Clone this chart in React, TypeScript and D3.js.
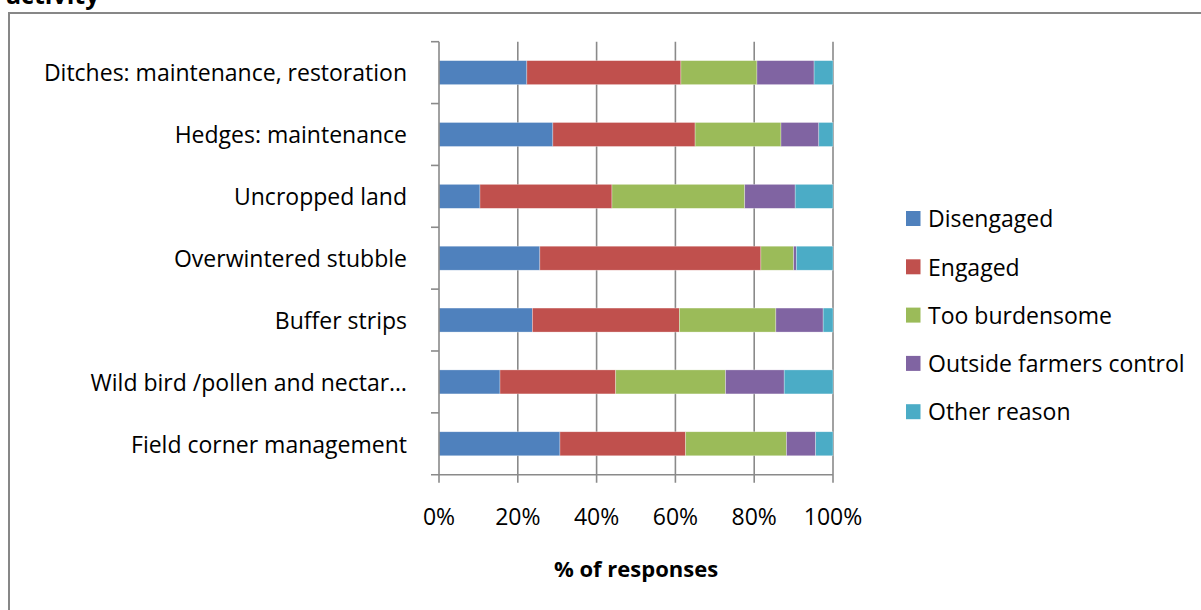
import * as React from 'react';
import * as d3 from 'd3';

// categories, top to bottom
const categories = [
  'Ditches: maintenance, restoration',
  'Hedges: maintenance',
  'Uncropped land',
  'Overwintered stubble',
  'Buffer strips',
  'Wild bird /pollen and nectar…',
  'Field corner management',
];

const disengaged = [22.3, 28.9, 10.4, 25.6, 23.7, 15.5, 30.7];
const engaged = [39.1, 36.1, 33.5, 56.1, 37.3, 29.4, 31.9];
const tooBurdensome = [19.3, 21.8, 33.7, 8.3, 24.5, 27.9, 25.6];
const outsideControl = [14.5, 9.6, 12.8, 0.7, 12.0, 14.9, 7.4];
const otherReason = [4.8, 3.6, 9.6, 9.3, 2.5, 12.4, 4.4];

const seriesNames = [
  'Disengaged',
  'Engaged',
  'Too burdensome',
  'Outside farmers control',
  'Other reason',
];
const seriesColors = ['#4F81BD', '#C0504D', '#9BBB59', '#8064A2', '#4BACC6'];
const xTicks = [0, 0.2, 0.4, 0.6, 0.8, 1];

const W = 1201;
const H = 610;
const FONT = '"Open Sans", "Noto Sans", sans-serif';

export default function App() {
  const seriesValues = [disengaged, engaged, tooBurdensome, outsideControl, otherReason];
  const rows = categories.map((c, i) => {
    const r: Record<string, any> = { category: c };
    seriesNames.forEach((s, j) => (r[s] = seriesValues[j][i]));
    return r;
  });

  const stacked = d3
    .stack<any>()
    .keys(seriesNames)
    .offset(d3.stackOffsetExpand)(rows);

  const x = d3.scaleLinear().domain([0, 1]).range([439, 833]);
  const y = d3
    .scaleBand<string>()
    .domain(categories)
    .range([41.7, 474.7])
    .paddingInner(0.612)
    .paddingOuter(0.306);
  const color = d3.scaleOrdinal<string>().domain(seriesNames).range(seriesColors);
  const fmt = d3.format('.0%');

  const top = y.range()[0];
  const bottom = y.range()[1];
  const step = y.step();
  const gridColor = '#8a8a8a';

  return (
    <svg
      width={W}
      height={H}
      style={{ position: 'absolute', left: 0, top: 0, background: '#fff' }}
      fontFamily={FONT}
    >
      {/* title, cut off at the top as in the source */}
      <text x={6} y={4} fontSize={25} fontWeight="bold" fill="#000">
        activity
      </text>
      {/* chart border */}
      <path d={`M9,${H + 2} V13 H${W + 2}`} fill="none" stroke="#878787" strokeWidth={2} />

      {/* gridlines */}
      {xTicks.slice(1).map((t) => (
        <line key={t} x1={x(t)} x2={x(t)} y1={top} y2={bottom + 8} stroke={gridColor} strokeWidth={1.6} />
      ))}

      {/* bars */}
      {stacked.map((s) => (
        <g key={s.key} fill={color(s.key)}>
          {s.map((d) => (
            <rect
              key={d.data.category}
              x={x(d[0])}
              y={y(d.data.category)}
              width={x(d[1]) - x(d[0])}
              height={y.bandwidth()}
              stroke="#ffffff"
              strokeOpacity={0.5}
              strokeWidth={0.6}
            />
          ))}
        </g>
      ))}

      {/* axes */}
      <line x1={x(0)} x2={x(0)} y1={top} y2={bottom + 8} stroke={gridColor} strokeWidth={1.6} />
      <line x1={x(0) - 8} x2={x(1)} y1={bottom} y2={bottom} stroke={gridColor} strokeWidth={1.6} />
      {d3.range(categories.length).map((i) => (
        <line
          key={i}
          x1={x(0) - 8}
          x2={x(0)}
          y1={top + i * step}
          y2={top + i * step}
          stroke={gridColor}
          strokeWidth={1.6}
        />
      ))}

      {/* category labels */}
      {categories.map((c) => (
        <text
          key={c}
          x={407}
          y={(y(c) ?? 0) + y.bandwidth() / 2}
          dy="0.38em"
          textAnchor="end"
          fontSize={23}
          fill="#000"
        >
          {c}
        </text>
      ))}

      {/* x tick labels */}
      {xTicks.map((t) => (
        <text key={t} x={x(t)} y={525} textAnchor="middle" fontSize={23} fill="#000">
          {fmt(t)}
        </text>
      ))}
      <text x={636} y={577} textAnchor="middle" fontSize={22} fontWeight="bold" fill="#000">
        % of responses
      </text>

      {/* legend */}
      {seriesNames.map((s, i) => (
        <g key={s} transform={`translate(906, ${211 + i * 48.3})`}>
          <rect width={14.5} height={15} fill={color(s)} />
          <text x={22} y={7.5} dy="0.38em" fontSize={23} fill="#000">
            {s}
          </text>
        </g>
      ))}
    </svg>
  );
}
